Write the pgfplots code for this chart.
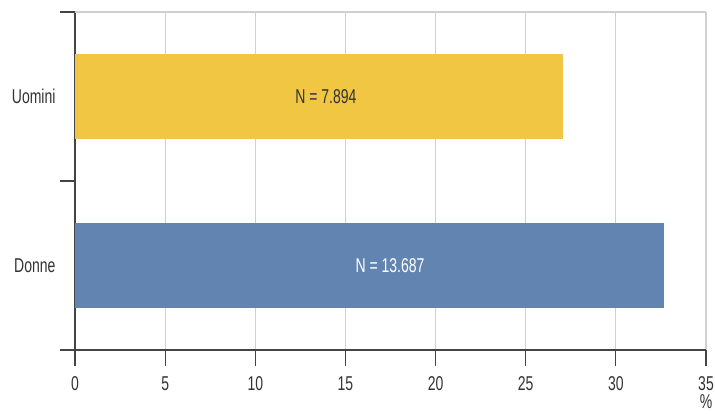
\documentclass[border=0pt]{standalone}
\usepackage{fontspec}
\setmainfont[FakeStretch=0.7]{Liberation Sans}
\usepackage{pgfplots}
\pgfplotsset{compat=1.18}
\definecolor{cyel}{HTML}{F1C643}
\definecolor{cblu}{HTML}{6184B0}
\definecolor{ctxt}{HTML}{333333}
\definecolor{cgrid}{HTML}{D0D0D0}
\definecolor{caxis}{HTML}{444444}
\begin{document}
\begin{tikzpicture}[x=1pt,y=1pt]
\begin{axis}[
  at={(75pt,64pt)}, anchor=south west,
  scale only axis, width=631pt, height=338pt,
  xbar, bar width=0.5, bar shift=0pt,
  xmin=0, xmax=35, ymin=-0.5, ymax=1.5,
  xtick={0,5,...,35},
  ytick={0,1}, yticklabels={Donne,Uomini},
  axis x line*=bottom, axis y line*=left,
  axis line style={caxis, line width=1.2pt, -},
  xmajorgrids, major grid style={cgrid, line width=1.2pt},
  tick align=outside,
  x tick style={caxis, line width=1.2pt},
  major tick length=16pt,
  y tick style={draw=none},
  extra y ticks={-0.5,0.5,1.5}, extra y tick labels={},
  extra y tick style={y tick style={caxis, line width=1.2pt, draw=caxis}, major tick length=15pt},
  ticklabel style={font=\fontsize{20}{22}\selectfont, text=ctxt},
  /pgf/number format/assume math mode=true,
  xticklabel style={anchor=north, yshift=-7pt},
  yticklabel style={anchor=east, xshift=0pt},
  clip=false,
  after end axis/.code={
    \draw[cgrid, line width=1.2pt] (rel axis cs:0,1) -- (rel axis cs:1,1);
  },
]
\addplot[fill=cblu, draw=none] coordinates {(32.67,0)};
\addplot[fill=cyel, draw=none] coordinates {(27.07,1)};
\node[font=\fontsize{20}{22}\selectfont, text=ctxt] at (axis cs:13.92,1) {N = 7.894};
\node[font=\fontsize{20}{22}\selectfont, text=white] at (axis cs:17.47,0) {N = 13.687};
\node[font=\fontsize{20}{22}\selectfont, text=ctxt] at (axis cs:35,-0.5) [yshift=-52pt] {\%};
\end{axis}
\pgfresetboundingbox
\path[use as bounding box] (0,0) rectangle (715,414);
\end{tikzpicture}
\end{document}
